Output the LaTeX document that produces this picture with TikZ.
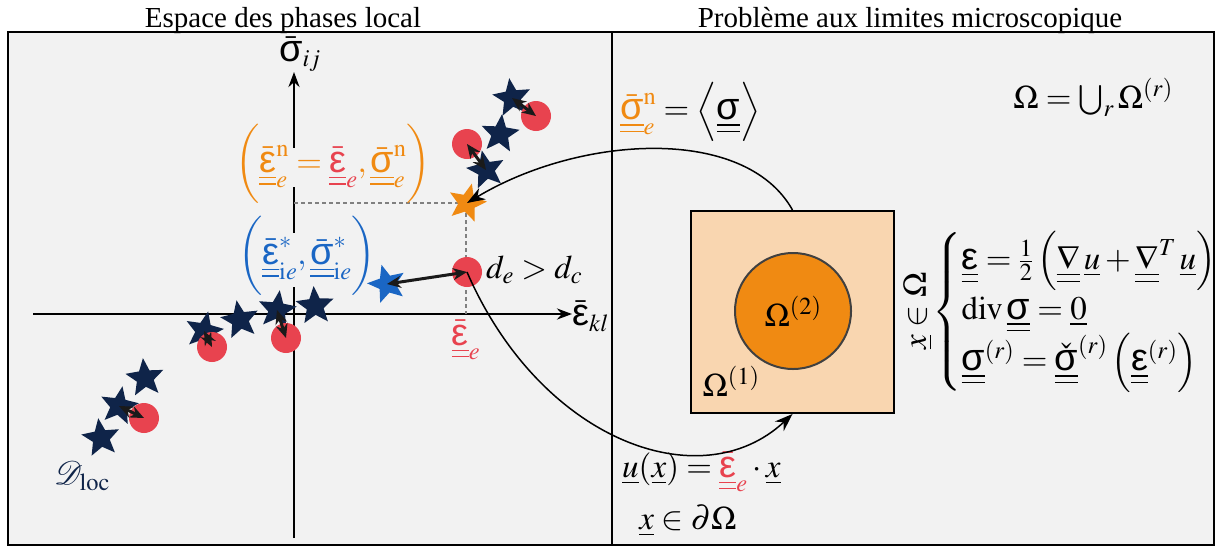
\documentclass[tikz,border=0pt]{standalone}
\usepackage{amsmath}
\usepackage{mathptmx}
\usepackage{fontspec}
\setmainfont{Liberation Serif}
\newfontfamily\grk[Scale=1.15]{Liberation Sans}
\usetikzlibrary{shapes.geometric,arrows.meta}
\definecolor{bgc}{HTML}{F2F2F2}
\definecolor{navy}{HTML}{0F2449}
\definecolor{cred}{HTML}{E8434F}
\definecolor{corange}{HTML}{F08A12}
\definecolor{cblue}{HTML}{1A66C4}
\definecolor{peach}{HTML}{F9D6B0}
\definecolor{darkarr}{HTML}{1A1A1A}
\newcommand{\myeps}{\text{\grk ε}}
\newcommand{\mysig}{\text{\grk σ}}
\newcommand{\dul}[1]{\underline{\underline{#1}}}
\newcommand{\bigstrut}{\rule[-26pt]{0pt}{66pt}}
\newcommand{\brstrut}{\rule[-22pt]{0pt}{58pt}}
\begin{document}
\begin{tikzpicture}[x=1pt,y=-1pt,
  every node/.style={font=\fontsize{29}{35}\selectfont, inner sep=2pt},
  mth/.style={font=\fontsize{33}{40}\selectfont},
  starn/.style={star, star points=5, star point ratio=2.25, minimum size=40pt, inner sep=0pt, fill=navy, draw=none},
  dot/.style={circle, minimum size=30pt, inner sep=0pt, fill=cred, draw=none},
  dbl/.style={line width=3pt, draw=darkarr, {Stealth[length=14pt,width=12pt]}-{Stealth[length=14pt,width=12pt]}},
  axis/.style={line width=2.5pt, -{Stealth[length=15pt,width=11pt]}},
  dsh/.style={line width=1.2pt, draw=gray, dash pattern=on 4pt off 3pt},
  curv/.style={line width=1.5pt, -{Stealth[length=18pt,width=13pt]}}
]
\useasboundingbox (0,0) rectangle (1217,547);
\fill[white] (0,0) rectangle (1217,547);
\draw[line width=2pt, fill=bgc] (8,32) rectangle (1214,545);
\draw[line width=2pt] (612,32) -- (612,545);

% titles
\node[anchor=base] (t1) at (283,27) {Espace des phases local};
\node[anchor=base] (t2) at (910,27) {Problème aux limites microscopique};

% axes
\coordinate (vb) at (294,538);
\coordinate (vt) at (294,72);
\coordinate (hl) at (33,314);
\coordinate (hr) at (572,314);
\draw[axis] (vb) -- (vt);
\draw[axis] (hl) -- (hr);
\node[mth] (ylab) at (300,54) {$\bar{\mysig}_{ij}$};
\node[mth, anchor=west] (xlab) at (570,316) {$\bar{\myeps}_{kl}$};

% gaps in vertical axis behind labels
\fill[bgc] (286,148) rectangle (302,187);
\fill[bgc] (286,233) rectangle (302,287);

% dashed projections
\coordinate (dy) at (294,203);
\coordinate (dx) at (466,314);
\coordinate (dc) at (466,203);
\draw[dsh] (dy) -- (dc) -- (dx);

% labels
\node[mth] (olab) at (333,164) {\color{corange}$\left(\bigstrut\dul{\bar{\myeps}}^{\mathrm{n}}_{e} = {\color{cred}\dul{\bar{\myeps}}_{e}}, \dul{\bar{\mysig}}^{\mathrm{n}}_{e}\right)$};
\node[mth] (blab) at (307,256) {\color{cblue}$\left(\bigstrut\dul{\bar{\myeps}}^{*}_{\mathrm{i}e}, \dul{\bar{\mysig}}^{*}_{\mathrm{i}e}\right)$};
\node[mth] (elab) at (466,340) {\color{cred}$\dul{\bar{\myeps}}_{e}$};
\node[mth, anchor=west] (dlab) at (484,270) {$d_e > d_c$};
\node[mth] (dloc) at (82,476) {\color{navy}$\mathcal{D}_{\mathrm{loc}}$};

% top-right cluster
\node[starn, rotate=8] (s1) at (512,98) {};
\node[dot] (c1) at (536,116) {};
\node[starn, rotate=-6] (s2) at (500,134) {};
\node[dot] (c2) at (467,144) {};
\node[starn, rotate=12] (s3) at (486,170) {};
\draw[dbl] (s1.center) -- (c1.center);
\draw[dbl] (c2.center) -- (s3.center);

% bottom-left cluster
\node[starn, rotate=4] (s4) at (315,306) {};
\node[starn, rotate=-8] (s5) at (277,310) {};
\node[dot] (c5) at (286,338) {};
\node[starn, rotate=10] (s6) at (240,320) {};
\node[starn, rotate=-12] (s7) at (204,331) {};
\node[dot] (c7) at (212,347) {};
\node[starn, rotate=6] (s8) at (145,378) {};
\node[starn, rotate=-10] (s9) at (119,406) {};
\node[dot] (c9) at (144,418) {};
\node[starn, rotate=8] (s10) at (101,438) {};
\draw[dbl] (s5.center) -- (c5.center);
\draw[dbl] (s7.center) -- (c7.center);
\draw[dbl] (s9.center) -- (c9.center);

% key points
\node[starn, fill=corange, rotate=-14] (os) at (467,203) {};
\node[dot] (rc) at (467,272) {};
\node[starn, fill=cblue, rotate=16] (bs) at (387,284) {};
\draw[dbl] (rc.center) -- (bs.center);

% right panel
\node[draw, line width=2pt, fill=peach, minimum width=203pt, minimum height=202pt, inner sep=0pt] (sq) at (792.5,312) {};
\node[mth, circle, draw=black!75, line width=2pt, fill=corange, minimum size=116pt, inner sep=0pt] (om2) at (793,311) {$\Omega^{(2)}$};
\node[mth] (om1) at (731,381) {$\Omega^{(1)}$};

\node[mth, anchor=west] (snl) at (618,112) {${\color{corange}\dul{\bar{\mysig}}^{\mathrm{n}}_{e}} = \left\langle\brstrut\dul{\mysig}\right\rangle$};
\node[mth] (omu) at (1093,97) {$\Omega = \bigcup_{r}\Omega^{(r)}$};

\node[mth, rotate=90] (xin) at (918,311) {$\underline{x}\in\boldsymbol{\Omega}$};
\node[mth, anchor=west, inner sep=0pt] (sys) at (932,312) {$\left\{\begin{array}{@{}l@{}}
\dul{\myeps} = \frac{1}{2}\left(\dul{\nabla}\,\underline{u} + \dul{\nabla}^{T}\,\underline{u}\right)\\[2pt]
\mathrm{div}\,\dul{\mysig} = \underline{0}\\[2pt]
\dul{\mysig}^{(r)} = \dul{\check{\mysig}}^{(r)}\left(\dul{\myeps}^{(r)}\right)
\end{array}\right.$};

\node[mth, anchor=west] (bc1) at (620,472) {$\underline{u}(\underline{x}) = {\color{cred}\dul{\bar{\myeps}}_{e}}\cdot\underline{x}$};
\node[mth] (bc2) at (688,521) {$\underline{x}\in\partial\Omega$};

% connectors
\draw[curv] (sq.north) .. controls (745,125) and (580,135) .. (os.center);
\draw[curv] (rc.center) .. controls (540,440) and (700,500) .. (sq.south);
\end{tikzpicture}
\end{document}
